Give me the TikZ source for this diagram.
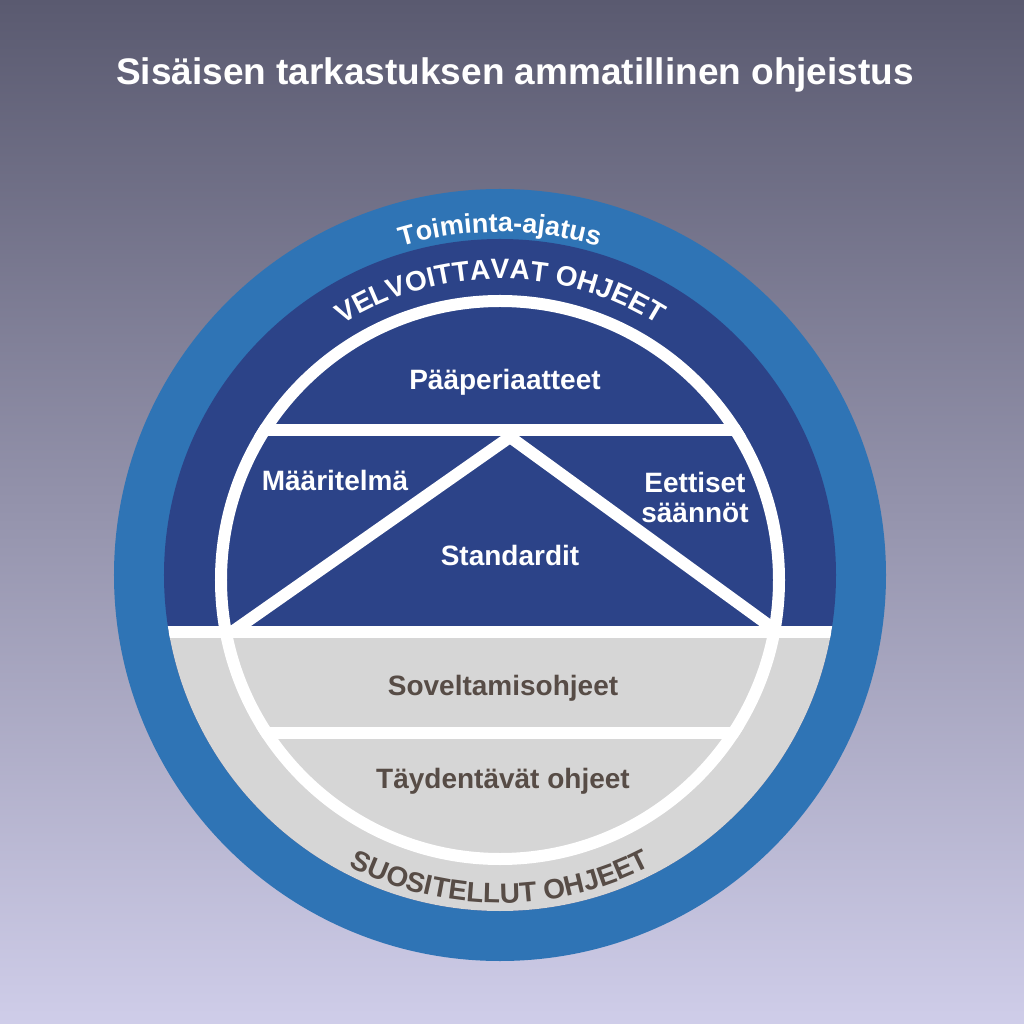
\documentclass[tikz,border=0pt]{standalone}
\usepackage{fontspec}
\setmainfont{Liberation Sans}
\usetikzlibrary{decorations.text}
\definecolor{bgtop}{HTML}{5A5A70}
\definecolor{bgbot}{HTML}{CFCDE9}
\definecolor{outerblue}{HTML}{2F74B5}
\definecolor{darkblue}{HTML}{2C4388}
\definecolor{lgray}{HTML}{D6D6D6}
\definecolor{gtext}{HTML}{574C46}
\begin{document}
\begin{tikzpicture}[x=1pt,y=1pt,
  wl/.style={white,line width=12pt},
  lab/.style={font=\fontsize{28}{30}\selectfont\bfseries,text=white,align=center},
  glab/.style={lab,text=gtext}]
\shade[top color=bgtop,bottom color=bgbot] (-500,-449) rectangle (524,575);
\useasboundingbox (-500,-449) rectangle (524,575);
\node[font=\fontsize{37}{40}\selectfont\bfseries,text=white] (title) at (15,500) {Sisäisen tarkastuksen ammatillinen ohjeistus};
\fill[outerblue] (0,0) circle (386);
\fill[darkblue] (0,0) circle (336);
\begin{scope}
\clip (0,0) circle (336);
\fill[lgray] (-340,-57) rectangle (340,-340);
\draw[wl] (-340,-57) -- (340,-57);
\end{scope}
\begin{scope}
\clip (0,-5) circle (285);
\draw[wl] (-300,145) -- (300,145);
\draw[wl] (-300,-158) -- (300,-158);
\draw[wl,line join=miter] (-268,-57) -- (10,138) -- (278,-57);
\end{scope}
\draw[wl] (0,-5) circle (279);
\path[decorate,decoration={text along path,text align=center,
  text={|\fontsize{27}{30}\selectfont\bfseries\color{white}|Toiminta-ajatus}}]
  (130:343) arc[start angle=130,end angle=50,radius=343];
\path[decorate,decoration={text along path,text align=center,
  text={|\fontsize{28}{30}\selectfont\bfseries\color{white}|VELVOITTAVAT OHJEET}}]
  (150:296) arc[start angle=150,end angle=30,radius=296];
\path[decorate,decoration={text along path,text align=center,
  text={|\fontsize{28}{30}\selectfont\bfseries\color{gtext}|SUOSITELLUT OHJEET}}]
  (220:328) arc[start angle=220,end angle=320,radius=328];
\node[lab] (paa) at (5,193) {Pääperiaatteet};
\node[lab] (maar) at (-165,95) {Määritelmä};
\node[lab] (eett) at (195,78) {Eettiset\\säännöt};
\node[lab] (std) at (10,20) {Standardit};
\node[glab] (sov) at (3,-113) {Soveltamisohjeet};
\node[glab] (tay) at (3,-206) {Täydentävät ohjeet};
\end{tikzpicture}
\end{document}
